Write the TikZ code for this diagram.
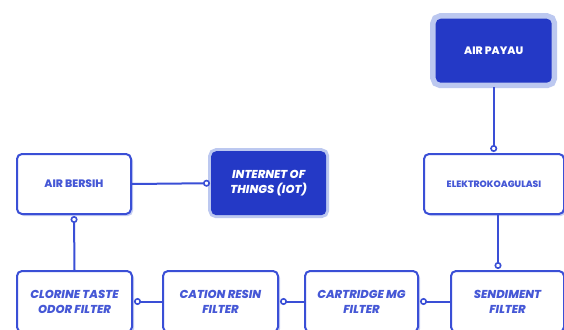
\documentclass[tikz,border=0pt]{standalone}
\usepackage{fontspec}
\setmainfont{Poppins}[BoldFont={* ExtraBold}, BoldItalicFont={* ExtraBold Italic}]
\usetikzlibrary{arrows.meta,shadows}
\definecolor{bl}{HTML}{3A4FD6}
\definecolor{dk}{HTML}{2439C6}
\definecolor{halo}{HTML}{BCC8F0}
\definecolor{shd}{HTML}{C8D0F2}
\definecolor{txt}{HTML}{4658D6}
\begin{document}
\begin{tikzpicture}[x=1pt,y=-1pt,
  box/.style={draw=bl, line width=2pt, rounded corners=5pt, fill=white,
    anchor=north west, align=center, text=txt, inner sep=0pt,
    drop shadow={shadow xshift=2pt, shadow yshift=-2pt, fill=shd, opacity=1}},
  dbox/.style={draw=none, rounded corners=5pt, fill=dk, anchor=north west,
    align=center, text=white, inner sep=0pt},
  lab/.style={font=\bfseries\fontsize{10.8}{15}\selectfont},
  ilab/.style={font=\bfseries\itshape\fontsize{11.5}{15}\selectfont},
  conn/.style={draw=bl, line width=2pt, shorten >=1pt,
    -{Circle[open, fill=white, length=7pt, width=7pt, line width=1.6pt]}}
]
\clip (0,0) rectangle (564,329);
\fill[white] (0,0) rectangle (564,329);

\node[dbox, lab, minimum width=116pt, minimum height=64pt,
  preaction={draw=halo, line width=11pt}] (payau) at (435.5,18.5) {AIR PAYAU};
\node[box, font=\bfseries\fontsize{9.2}{10}\selectfont, minimum width=140pt, minimum height=60pt] (elektro) at (423,153) {ELEKTROKOAGULASI};
\node[box, lab, minimum width=114pt, minimum height=60pt] (bersih) at (16,153) {AIR BERSIH};
\node[dbox, ilab, minimum width=115pt, minimum height=64pt,
  preaction={draw=halo, line width=6pt}] (iot) at (211,151) {INTERNET OF\\THINGS (IOT)};

\node[box, ilab, minimum width=115pt, minimum height=61pt] (clorine) at (16,270) {CLORINE TASTE\\ODOR FILTER};
\node[box, ilab, minimum width=115pt, minimum height=61pt] (cation) at (162,270) {CATION RESIN\\FILTER};
\node[box, ilab, minimum width=113pt, minimum height=61pt] (cartridge) at (304,270) {CARTRIDGE MG\\FILTER};
\node[box, ilab, minimum width=113pt, minimum height=61pt] (sendiment) at (450,270) {SENDIMENT\\FILTER};

\draw[conn] (payau.south) ++(0,4) -- (payau.south |- elektro.north);
\draw[conn] ([xshift=4pt]elektro.south) -- ([xshift=4pt]elektro.south |- sendiment.north);
\draw[conn] (sendiment.west) -- (cartridge.east);
\draw[conn] (cartridge.west) -- (cation.east);
\draw[conn] (cation.west) -- (clorine.east);
\draw[conn] (clorine.north) -- (bersih.south);
\draw[conn] (bersih.east) -- (iot.west);
\end{tikzpicture}
\end{document}
